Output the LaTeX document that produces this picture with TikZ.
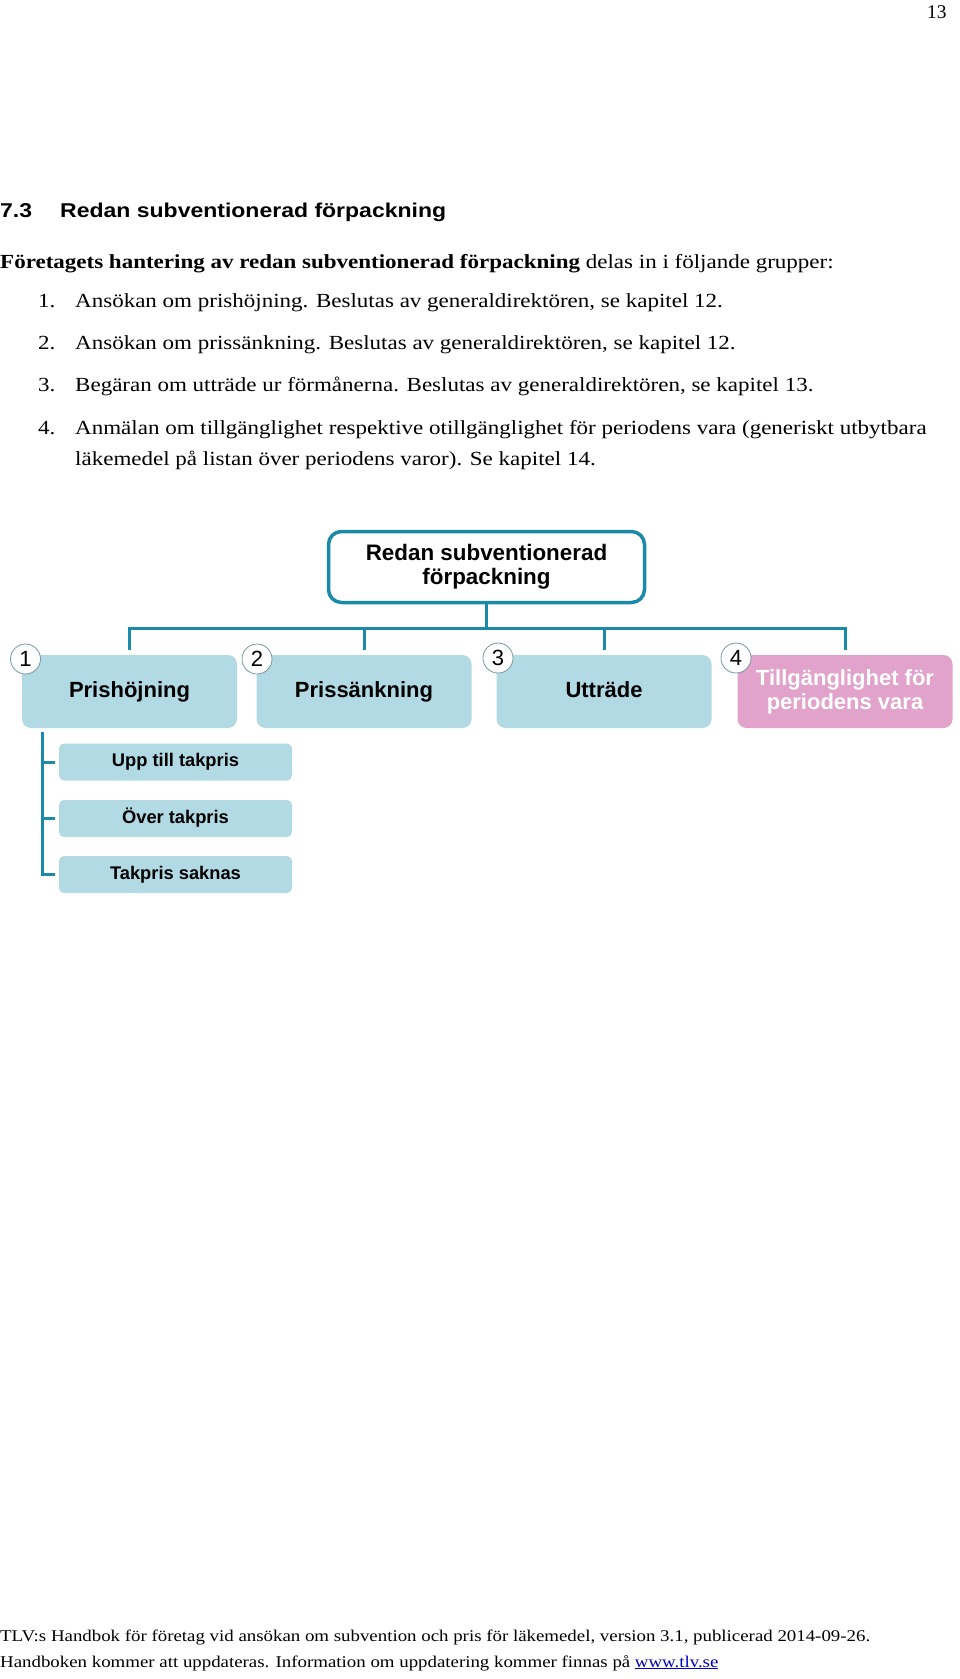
\documentclass[tikz,border=0pt]{standalone}
\usepackage{fontspec}
\setmainfont{Liberation Serif}[FakeStretch=1.15]
\newfontfamily\plainserif{Liberation Serif}
\newfontfamily\arial{Liberation Sans}
\newfontfamily\headfont{Liberation Sans}[FakeStretch=1.15]
\definecolor{tealline}{RGB}{27,138,168}
\definecolor{lblue}{RGB}{178,218,229}
\definecolor{pinkbox}{RGB}{225,163,204}
\definecolor{circline}{RGB}{120,150,160}
\definecolor{linkblue}{RGB}{0,0,190}
\tikzset{
  bodytext/.style={anchor=base west, inner sep=0pt, font=\fontsize{20}{23}\selectfont},
  foottext/.style={anchor=base west, inner sep=0pt, font=\fontsize{16.4}{20}\selectfont},
  conn/.style={draw=tealline, line width=3pt},
  topbox/.style={draw=tealline, line width=3.5pt, fill=white, rounded corners=13pt,
     minimum width=316pt, minimum height=71pt, align=center, inner sep=0pt,
     font=\arial\bfseries\fontsize{22.4}{24}\selectfont},
  catbox/.style={fill=lblue, rounded corners=9pt, minimum width=215pt, minimum height=73pt,
     inner sep=0pt, align=center, font=\arial\bfseries\fontsize{22}{24}\selectfont},
  oneline/.style={text height=16pt, text depth=4.5pt},
  subbox/.style={fill=lblue, rounded corners=5pt, minimum width=233pt, minimum height=37pt,
     inner sep=0pt, text height=13.5pt, text depth=3.8pt, font=\arial\bfseries\fontsize{18.3}{20}\selectfont},
  numcirc/.style={circle, draw=circline, line width=0.8pt, fill=white, minimum size=30pt,
     inner sep=0pt, font=\arial\fontsize{22}{22}\selectfont}
}
\begin{document}
\begin{tikzpicture}[x=1pt,y=-1pt]
\useasboundingbox (0,0) rectangle (960,1679);
% page number
\node[anchor=base west, inner sep=0pt, font=\plainserif\fontsize{19.4}{23}\selectfont] (pnum) at (927,18) {13};
% heading
\node[anchor=base west, inner sep=0pt, font=\headfont\bfseries\fontsize{20}{24}\selectfont] (hnum) at (0,217) {7.3};
\node[anchor=base west, inner sep=0pt, font=\headfont\bfseries\fontsize{20}{24}\selectfont] (htxt) at (60,217) {Redan subventionerad förpackning};
% intro
\node[bodytext] (intro) at (0,268.5) {\textbf{Företagets hantering av redan subventionerad förpackning} delas in i följande grupper:};
\node[bodytext] (n1) at (38,307) {1.};
\node[bodytext] (t1) at (75,307) {Ansökan om prishöjning. Beslutas av generaldirektören, se kapitel 12.};
\node[bodytext] (n2) at (38,349) {2.};
\node[bodytext] (t2) at (75,349) {Ansökan om prissänkning. Beslutas av generaldirektören, se kapitel 12.};
\node[bodytext] (n3) at (38,391) {3.};
\node[bodytext] (t3) at (75,391) {Begäran om utträde ur förmånerna. Beslutas av generaldirektören, se kapitel 13.};
\node[bodytext] (n4) at (38,434) {4.};
\node[bodytext] (t4) at (75,434) {Anmälan om tillgänglighet respektive otillgänglighet för periodens vara (generiskt utbytbara};
\node[bodytext] (t4b) at (75,465) {läkemedel på listan över periodens varor). Se kapitel 14.};

% diagram
\node[topbox] (top) at (486.5,567) {Redan subventionerad\\förpackning};
\node[catbox, oneline] (b1) at (129.5,691.5) {Prishöjning};
\node[catbox, oneline] (b2) at (364,691.5) {Prissänkning};
\node[catbox, oneline] (b3) at (604,691.5) {Utträde};
\node[catbox, fill=pinkbox, text=white] (b4) at (845,691.5) {Tillgänglighet för\\periodens vara};

\coordinate (bus) at (0,628);
\draw[conn] (top.south) -- (top.south |- bus);
\draw[conn] ([yshift=5pt]b1.north) -- (b1.north |- bus) -- (b4.north |- bus) -- ([yshift=5pt]b4.north);
\draw[conn] ([yshift=5pt]b2.north) -- (b2.north |- bus);
\draw[conn] ([yshift=5pt]b3.north) -- (b3.north |- bus);

\node[numcirc] (c1) at (25.5,659) {1};
\node[numcirc] (c2) at (257,659) {2};
\node[numcirc] (c3) at (498,658) {3};
\node[numcirc] (c4) at (736,658) {4};

\node[subbox] (s1) at (175.5,762) {Upp till takpris};
\node[subbox] (s2) at (175.5,818.5) {Över takpris};
\node[subbox] (s3) at (175.5,874.5) {Takpris saknas};
\coordinate (br) at (42,732);
\draw[conn] (br) |- ([xshift=-4pt]s3.west);
\draw[conn] (br |- s1.west) -- ([xshift=-4pt]s1.west);
\draw[conn] (br |- s2.west) -- ([xshift=-4pt]s2.west);

% footer
\node[foottext] (f1) at (0,1641) {TLV:s Handbok för företag vid ansökan om subvention och pris för läkemedel, version 3.1, publicerad 2014-09-26.};
\node[foottext] (f2) at (0,1667) {Handboken kommer att uppdateras. Information om uppdatering kommer finnas på \textcolor{linkblue}{\underline{www.tlv.se}}};
\end{tikzpicture}
\end{document}
